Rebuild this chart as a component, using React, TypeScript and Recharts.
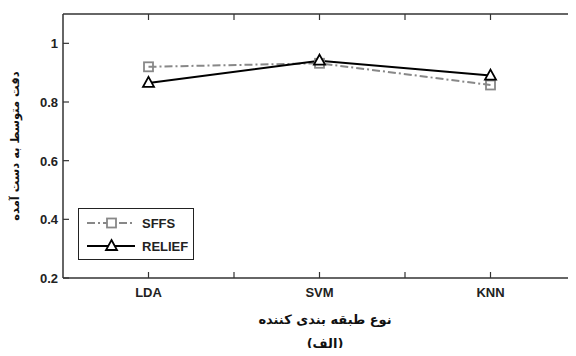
import React from 'react';
import { LineChart, Line, XAxis, YAxis } from 'recharts';

const classifiers = ['LDA', 'SVM', 'KNN'];
const sffsValues = [0.92, 0.932, 0.858];
const reliefValues = [0.865, 0.941, 0.89];
const xTicks = [1, 1.5, 2, 2.5, 3];
const yTicks = [0.2, 0.4, 0.6, 0.8, 1];

const data = classifiers.map((name, i) => ({
  pos: i + 1,
  name,
  sffs: sffsValues[i],
  relief: reliefValues[i],
}));

const FONT = '"Liberation Sans", Arial, sans-serif';
const FA_FONT = '"DejaVu Sans", sans-serif';

const BottomTick = (props: any) => {
  const { x, y, payload } = props;
  const label = Number.isInteger(payload.value) ? classifiers[payload.value - 1] : '';
  return (
    <g>
      <line x1={x} y1={y} x2={x} y2={y - 6} stroke="#333" strokeWidth={1.2} />
      <text x={x} y={y + 19} textAnchor="middle" fontFamily={FONT} fontWeight="bold" fontSize={13} fill="#222">
        {label}
      </text>
    </g>
  );
};

const TopTick = (props: any) => {
  const { x, y } = props;
  return <line x1={x} y1={y} x2={x} y2={y + 6} stroke="#333" strokeWidth={1.2} />;
};

const LeftTick = (props: any) => {
  const { x, y, payload } = props;
  const v = payload.value;
  return (
    <g>
      <line x1={x} y1={y} x2={x + 6} y2={y} stroke="#333" strokeWidth={1.2} />
      <text x={x - 5} y={y + 5} textAnchor="end" fontFamily={FONT} fontWeight="bold" fontSize={13} fill="#222">
        {v === 1 ? '1' : v.toFixed(1)}
      </text>
    </g>
  );
};

const RightTick = (props: any) => {
  const { x, y } = props;
  return <line x1={x} y1={y} x2={x - 7} y2={y} stroke="#333" strokeWidth={1.2} />;
};

const SquareDot = (props: any) => {
  const { cx, cy, index } = props;
  return <rect key={'s' + index} x={cx - 4.5} y={cy - 4.5} width={9} height={9} fill="none" stroke="#888" strokeWidth={1.8} />;
};

const TriangleDot = (props: any) => {
  const { cx, cy, index } = props;
  return (
    <path
      key={'t' + index}
      d={`M${cx},${cy - 6} L${cx + 5.5},${cy + 4} L${cx - 5.5},${cy + 4} Z`}
      fill="#fff"
      stroke="#000"
      strokeWidth={1.8}
    />
  );
};

const LegendBox = () => (
  <div
    style={{
      position: 'absolute',
      left: 78,
      top: 208,
      width: 116,
      height: 52,
      border: '1.5px solid #222',
      background: '#fff',
      boxSizing: 'border-box',
    }}
  >
    <svg width={113} height={49} style={{ display: 'block' }}>
      <line x1={8} y1={14} x2={56} y2={14} stroke="#888" strokeWidth={2} strokeDasharray="8 3 2 3" />
      <rect x={28} y={9.5} width={9} height={9} fill="#fff" stroke="#888" strokeWidth={1.8} />
      <text x={63} y={19} fontFamily={FONT} fontWeight="bold" fontSize={13} fill="#222">SFFS</text>
      <line x1={8} y1={37} x2={56} y2={37} stroke="#000" strokeWidth={2} />
      <path d="M32.5,31 L38,41 L27,41 Z" fill="#fff" stroke="#000" strokeWidth={1.8} />
      <text x={63} y={42} fontFamily={FONT} fontWeight="bold" fontSize={13} fill="#222">RELIEF</text>
    </svg>
  </div>
);

const faStyle: React.CSSProperties = {
  position: 'absolute',
  whiteSpace: 'nowrap',
  fontFamily: FA_FONT,
  fontWeight: 'bold',
  fontSize: 13,
  lineHeight: 1,
  color: '#111',
};

const App = () => {
  return (
    <div style={{ position: 'relative', width: 576, height: 356, margin: -8, overflow: 'hidden', background: '#fff' }}>
      <LineChart width={590} height={356} data={data} margin={{ top: 13, right: 13, left: 0, bottom: 0 }}>
        <XAxis
          dataKey="pos"
          type="number"
          domain={[0.5, 3.5]}
          ticks={xTicks}
          tick={<BottomTick />}
          tickSize={0}
          tickMargin={0}
          tickLine={false}
          height={78}
          axisLine={{ stroke: '#333', strokeWidth: 1.5 }}
        />
        <XAxis
          xAxisId="top"
          orientation="top"
          dataKey="pos"
          type="number"
          domain={[0.5, 3.5]}
          ticks={xTicks}
          tick={<TopTick />}
          tickSize={0}
          tickMargin={0}
          tickLine={false}
          height={1}
          axisLine={{ stroke: '#333', strokeWidth: 1.5 }}
        />
        <YAxis
          type="number"
          domain={[0.2, 1.1]}
          ticks={yTicks}
          tick={<LeftTick />}
          tickSize={0}
          tickMargin={0}
          tickLine={false}
          width={63}
          allowDataOverflow
          axisLine={{ stroke: '#333', strokeWidth: 1.5 }}
        />
        <YAxis
          yAxisId="right"
          orientation="right"
          type="number"
          domain={[0.2, 1.1]}
          ticks={yTicks}
          tick={<RightTick />}
          tickSize={0}
          tickMargin={0}
          tickLine={false}
          width={1}
          allowDataOverflow
          axisLine={{ stroke: '#333', strokeWidth: 1.5 }}
        />
        <Line
          type="linear"
          dataKey="sffs"
          name="SFFS"
          stroke="#888"
          strokeWidth={2}
          strokeDasharray="8 3 2 3"
          dot={<SquareDot />}
          isAnimationActive={false}
        />
        <Line
          type="linear"
          dataKey="relief"
          name="RELIEF"
          stroke="#000"
          strokeWidth={2}
          dot={<TriangleDot />}
          isAnimationActive={false}
        />
      </LineChart>
      <LegendBox />
      <div style={{ ...faStyle, fontSize: 11.5, left: 16, top: 146, transform: 'translate(-50%, -50%) rotate(-90deg)' }}>
        دقت متوسط به دست آمده
      </div>
      <div style={{ ...faStyle, left: 325, top: 319, transform: 'translate(-50%, -50%)' }}>
        نوع طبقه بندی کننده
      </div>
      <div style={{ ...faStyle, left: 325, top: 343, transform: 'translate(-50%, -50%)' }}>
        (الف)
      </div>
    </div>
  );
};

export default App;
